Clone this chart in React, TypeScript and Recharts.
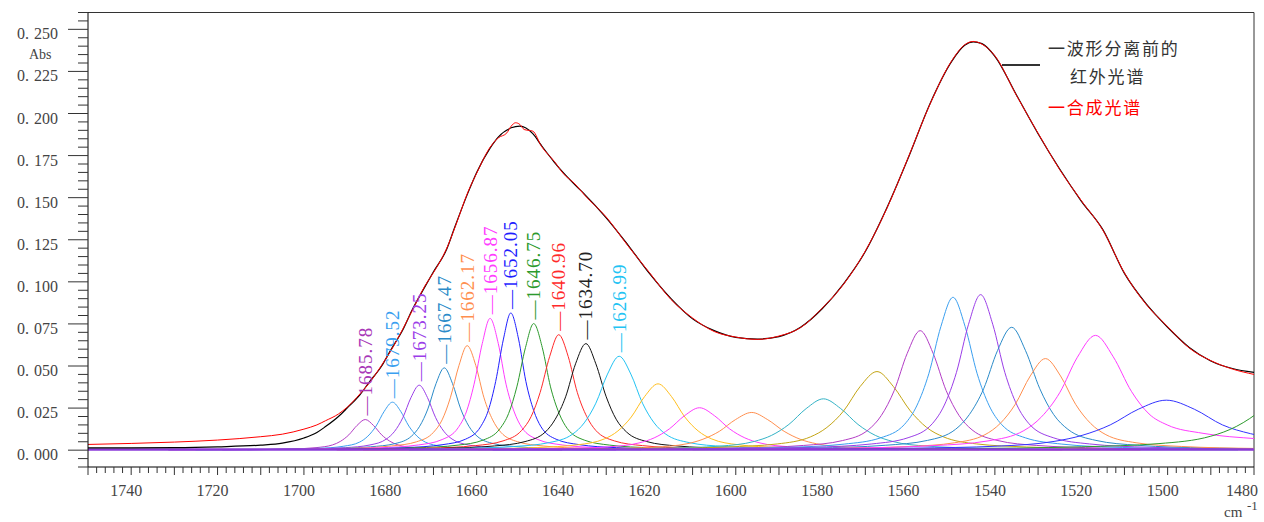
import React from "react";
import { ComposedChart, Line, Scatter, XAxis, YAxis, ReferenceLine } from "recharts";

type Pt = [number, number];

// measured spectrum before curve fitting (black)
const measured: Pt[] = [
  [1750, 0.0014], [1740, 0.0014], [1730, 0.0015], [1720, 0.002], [1710, 0.003], [1705, 0.0042],
  [1700, 0.0072], [1697, 0.0105], [1695, 0.014], [1692, 0.02], [1690, 0.025], [1687, 0.033],
  [1685, 0.04], [1682, 0.05], [1680, 0.059], [1677, 0.072], [1675, 0.083], [1672, 0.097],
  [1670, 0.106], [1667, 0.119], [1665, 0.133], [1662, 0.153], [1660, 0.165], [1657, 0.179],
  [1655, 0.186], [1652, 0.1915], [1650, 0.1925], [1647, 0.188], [1645, 0.181], [1642, 0.171],
  [1640, 0.165], [1637, 0.157], [1635, 0.152], [1630, 0.138], [1625, 0.122], [1620, 0.105],
  [1615, 0.09], [1610, 0.078], [1605, 0.071], [1600, 0.067], [1595, 0.066], [1590, 0.0675],
  [1585, 0.073], [1580, 0.084], [1575, 0.099], [1570, 0.118], [1565, 0.144], [1560, 0.174],
  [1555, 0.206], [1550, 0.231], [1547, 0.2405], [1545, 0.2425], [1543, 0.2415], [1540, 0.234],
  [1535, 0.211], [1530, 0.188], [1525, 0.167], [1520, 0.148], [1515, 0.131], [1510, 0.105],
  [1505, 0.087], [1500, 0.073], [1495, 0.061], [1490, 0.053], [1485, 0.0485], [1480, 0.0462],
];

// synthesized spectrum (red)
const fitted: Pt[] = [
  [1750, 0.0034], [1740, 0.004], [1730, 0.0048], [1720, 0.006], [1710, 0.008], [1705, 0.0095],
  [1700, 0.0125], [1697, 0.015], [1695, 0.0175], [1692, 0.0215], [1690, 0.0255], [1687, 0.0335],
  [1685, 0.0395], [1682, 0.0505], [1680, 0.0585], [1677, 0.0725], [1675, 0.0825], [1672, 0.0975],
  [1670, 0.1055], [1667, 0.1195], [1665, 0.1325], [1662, 0.1535], [1660, 0.1645], [1657, 0.1795],
  [1655, 0.1855], [1653, 0.1885], [1652, 0.1925], [1651, 0.1945], [1650, 0.1935], [1649, 0.1905],
  [1647, 0.1895], [1645, 0.1805], [1642, 0.1715], [1640, 0.1645], [1637, 0.1575], [1635, 0.1515],
  [1630, 0.1385], [1625, 0.1215], [1620, 0.1055], [1615, 0.0895], [1610, 0.0785], [1605, 0.0705],
  [1600, 0.0672], [1595, 0.0658], [1590, 0.0678], [1585, 0.0728], [1580, 0.0843], [1575, 0.0987],
  [1570, 0.1183], [1565, 0.1437], [1560, 0.1743], [1555, 0.2057], [1550, 0.2313], [1547, 0.2408],
  [1545, 0.2428], [1543, 0.2412], [1540, 0.2343], [1535, 0.2107], [1530, 0.1883], [1525, 0.1667],
  [1520, 0.1483], [1515, 0.1307], [1510, 0.1053], [1505, 0.0867], [1500, 0.0733], [1495, 0.0607],
  [1490, 0.0532], [1485, 0.0482], [1480, 0.045],
];

// fitted component bands
const p1685: Pt[] = [[1640.2, .0001], [1659.2, .0003], [1668.7, .0007], [1674.4, .0015], [1678.2, .0031], [1680.1, .0053], [1682.0, .0091], [1683.9, .0147], [1685.8, .0182], [1687.7, .0147], [1689.6, .0091], [1691.5, .0053], [1693.4, .0031], [1697.2, .0015], [1702.9, .0007], [1712.4, .0003], [1731.4, .0001]];
const p1679: Pt[] = [[1633.9, .0002], [1652.9, .0005], [1662.4, .0011], [1668.1, .0023], [1671.9, .0048], [1673.8, .0083], [1675.7, .0143], [1677.6, .0231], [1679.5, .0285], [1681.4, .0231], [1683.3, .0143], [1685.2, .0083], [1687.1, .0048], [1690.9, .0023], [1696.6, .0011], [1706.1, .0005], [1725.1, .0002]];
const p1673: Pt[] = [[1627.7, .0002], [1646.7, .0007], [1656.2, .0015], [1661.9, .0031], [1665.7, .0066], [1667.6, .0112], [1669.5, .0193], [1671.4, .0313], [1673.3, .0386], [1675.2, .0313], [1677.1, .0193], [1679.0, .0112], [1680.9, .0066], [1684.7, .0031], [1690.4, .0015], [1699.9, .0007], [1718.9, .0002]];
const p1667: Pt[] = [[1621.9, .0003], [1640.9, .0009], [1650.4, .002], [1656.1, .0039], [1659.9, .0083], [1661.8, .0142], [1663.7, .0245], [1665.6, .0396], [1667.5, .0489], [1669.4, .0396], [1671.3, .0245], [1673.2, .0142], [1675.1, .0083], [1678.9, .0039], [1684.6, .002], [1694.1, .0009], [1713.1, .0003]];
const p1662: Pt[] = [[1615.4, .0004], [1634.9, .0011], [1644.6, .0025], [1650.5, .005], [1654.4, .0106], [1656.3, .018], [1658.3, .0311], [1660.2, .0503], [1662.2, .0621], [1664.1, .0503], [1666.1, .0311], [1668.0, .018], [1670.0, .0106], [1673.9, .005], [1679.7, .0025], [1689.5, .0011], [1709.0, .0004]];
const p1656: Pt[] = [[1612.5, .0005], [1631.0, .0014], [1640.2, .0031], [1645.8, .0063], [1649.5, .0133], [1651.3, .0227], [1653.2, .0392], [1655.0, .0634], [1656.9, .0783], [1658.7, .0634], [1660.6, .0392], [1662.4, .0227], [1664.3, .0133], [1668.0, .0063], [1673.5, .0031], [1682.8, .0014], [1701.3, .0005]];
const p1652: Pt[] = [[1610.1, .0005], [1627.6, .0015], [1636.3, .0033], [1641.6, .0065], [1645.1, .0139], [1646.8, .0236], [1648.6, .0408], [1650.3, .066], [1652.1, .0815], [1653.8, .066], [1655.6, .0408], [1657.3, .0236], [1659.1, .0139], [1662.6, .0065], [1667.8, .0033], [1676.6, .0015], [1694.1, .0005]];
const p1646: Pt[] = [[1600.0, .0005], [1619.5, .0014], [1629.2, .003], [1635.1, .006], [1639.0, .0128], [1640.9, .0218], [1642.9, .0376], [1644.8, .0609], [1646.8, .0752], [1648.7, .0609], [1650.7, .0376], [1652.6, .0218], [1654.6, .0128], [1658.5, .006], [1664.3, .003], [1674.1, .0014], [1693.6, .0005]];
const p1640: Pt[] = [[1589.4, .0004], [1610.9, .0012], [1621.6, .0027], [1628.1, .0055], [1632.4, .0117], [1634.5, .0199], [1636.7, .0343], [1638.8, .0556], [1641.0, .0686], [1643.1, .0556], [1645.3, .0343], [1647.4, .0199], [1649.6, .0117], [1653.9, .0055], [1660.3, .0027], [1671.1, .0012], [1692.6, .0004]];
const p1634: Pt[] = [[1578.3, .0004], [1601.8, .0011], [1613.6, .0025], [1620.6, .0051], [1625.3, .0108], [1627.7, .0184], [1630.0, .0317], [1632.4, .0513], [1634.7, .0633], [1637.1, .0513], [1639.4, .0317], [1641.8, .0184], [1644.1, .0108], [1648.8, .0051], [1655.9, .0025], [1667.6, .0011], [1691.1, .0004]];
const p1626: Pt[] = [[1562.2, .0003], [1589.2, .001], [1602.7, .0022], [1610.8, .0045], [1616.2, .0095], [1618.9, .0162], [1621.6, .0279], [1624.3, .0452], [1627.0, .0558], [1629.7, .0452], [1632.4, .0279], [1635.1, .0162], [1637.8, .0095], [1643.2, .0045], [1651.3, .0022], [1664.8, .001], [1691.8, .0003]];
const p1618: Pt[] = [[1543.6, .0002], [1574.6, .0007], [1590.1, .0016], [1599.4, .0032], [1605.6, .0067], [1608.7, .0114], [1611.8, .0197], [1614.9, .0319], [1618.0, .0394], [1621.1, .0319], [1624.2, .0197], [1627.3, .0114], [1630.4, .0067], [1636.6, .0032], [1645.9, .0016], [1661.4, .0007], [1692.4, .0002]];
const p1608: Pt[] = [[1524.4, .0002], [1559.4, .0005], [1576.9, .001], [1587.4, .002], [1594.4, .0043], [1597.9, .0073], [1601.4, .0126], [1604.9, .0204], [1608.4, .0252], [1611.9, .0204], [1615.4, .0126], [1618.9, .0073], [1622.4, .0043], [1629.4, .002], [1639.9, .001], [1657.4, .0005], [1692.4, .0002]];
const p1596: Pt[] = [[1506.3, .0001], [1543.8, .0004], [1562.6, .0009], [1573.8, .0018], [1581.3, .0038], [1585.1, .0065], [1588.8, .0112], [1592.6, .0181], [1596.3, .0224], [1600.1, .0181], [1603.8, .0112], [1607.6, .0065], [1611.3, .0038], [1618.8, .0018], [1630.1, .0009], [1648.8, .0004], [1686.3, .0001]];
const p1580: Pt[] = [[1483.7, .0002], [1523.7, .0005], [1543.7, .0012], [1555.7, .0024], [1563.7, .0052], [1567.7, .0088], [1571.7, .0153], [1575.7, .0247], [1579.7, .0305], [1583.7, .0247], [1587.7, .0153], [1591.7, .0088], [1595.7, .0052], [1603.7, .0024], [1615.7, .0012], [1635.7, .0005], [1675.7, .0002]];
const p1567: Pt[] = [[1474.9, .0003], [1513.4, .0008], [1532.7, .0019], [1544.2, .0037], [1551.9, .0079], [1555.8, .0135], [1559.6, .0234], [1563.5, .0378], [1567.3, .0467], [1571.2, .0378], [1575.0, .0234], [1578.9, .0135], [1582.7, .0079], [1590.4, .0037], [1602.0, .0019], [1621.2, .0008], [1659.7, .0003]];
const p1557: Pt[] = [[1485.3, .0004], [1515.3, .0013], [1530.3, .0028], [1539.3, .0057], [1545.3, .0121], [1548.3, .0206], [1551.3, .0355], [1554.3, .0575], [1557.3, .071], [1560.3, .0575], [1563.3, .0355], [1566.3, .0206], [1569.3, .0121], [1575.3, .0057], [1584.3, .0028], [1599.3, .0013], [1629.3, .0004]];
const p1550: Pt[] = [[1482.5, .0005], [1510.5, .0016], [1524.5, .0036], [1532.9, .0073], [1538.5, .0154], [1541.3, .0263], [1544.1, .0454], [1546.9, .0735], [1549.7, .0908], [1552.5, .0735], [1555.3, .0454], [1558.1, .0263], [1560.9, .0154], [1566.5, .0073], [1574.9, .0036], [1588.9, .0016], [1616.9, .0005]];
const p1543: Pt[] = [[1476.1, .0006], [1504.1, .0017], [1518.1, .0037], [1526.5, .0074], [1532.1, .0157], [1534.9, .0268], [1537.7, .0462], [1540.5, .0748], [1543.3, .0924], [1546.1, .0748], [1548.9, .0462], [1551.7, .0268], [1554.5, .0157], [1560.1, .0074], [1568.5, .0037], [1582.5, .0017], [1610.5, .0006]];
const p1536: Pt[] = [[1458.1, .0004], [1490.6, .0013], [1506.9, .0029], [1516.6, .0058], [1523.1, .0124], [1526.4, .0212], [1529.6, .0365], [1532.9, .0591], [1536.1, .073], [1539.4, .0591], [1542.6, .0365], [1545.9, .0212], [1549.1, .0124], [1555.6, .0058], [1565.4, .0029], [1581.6, .0013], [1614.1, .0004]];
const p1528: Pt[] = [[1444.3, .0003], [1479.3, .001], [1496.8, .0022], [1507.3, .0044], [1514.3, .0092], [1517.8, .0158], [1521.3, .0272], [1524.8, .0441], [1528.3, .0544], [1531.8, .0441], [1535.3, .0272], [1538.8, .0158], [1542.3, .0092], [1549.3, .0044], [1559.8, .0022], [1577.3, .001], [1612.3, .0003]];
const p1517: Pt[] = [[1417.1, .002], [1458.6, .0045], [1479.4, .0068], [1491.8, .01], [1500.1, .015], [1504.3, .0215], [1508.4, .035], [1512.6, .0555], [1516.7, .0682], [1520.9, .0552], [1525.0, .0341], [1529.2, .0198], [1533.3, .0116], [1541.6, .0055], [1554.1, .0027], [1574.8, .0012], [1616.3, .0004]];
const p1500: Pt[] = [[1461.3, .004], [1474.3, .0068], [1480.8, .0098], [1487.3, .015], [1493.8, .0243], [1500.3, .0297], [1506.8, .0243], [1513.3, .015], [1519.8, .0088], [1526.3, .0052], [1539.3, .0024], [1558.8, .0012], [1591.3, .0005], [1656.3, .0002]];
const p1466: Pt[] = [[1466, .049], [1472, .0397], [1478, .0245], [1484, .0142], [1490, .0083], [1502, .0039], [1520, .002], [1550, .0009], [1610, .0003]];

const baseline: Pt[] = [[1480, 0.0004], [1750, 0.0004]];

const components: { pts: Pt[]; color: string }[] = [
  { pts: p1685, color: "#b33dc6" },
  { pts: p1679, color: "#3a9ff0" },
  { pts: p1673, color: "#9b3ee8" },
  { pts: p1667, color: "#2b8bc9" },
  { pts: p1662, color: "#ff8f4f" },
  { pts: p1656, color: "#ff3cff" },
  { pts: p1652, color: "#1f1fff" },
  { pts: p1646, color: "#2c9a2c" },
  { pts: p1640, color: "#ff2a2a" },
  { pts: p1634, color: "#111111" },
  { pts: p1626, color: "#23c3f3" },
  { pts: p1618, color: "#ffbf1f" },
  { pts: p1608, color: "#ff3cff" },
  { pts: p1596, color: "#ff8f4f" },
  { pts: p1580, color: "#33b3c6" },
  { pts: p1567, color: "#c4a515" },
  { pts: p1557, color: "#b33dc6" },
  { pts: p1550, color: "#3a9ff0" },
  { pts: p1543, color: "#9b3ee8" },
  { pts: p1536, color: "#2b8bc9" },
  { pts: p1528, color: "#ff8f4f" },
  { pts: p1517, color: "#ff3cff" },
  { pts: p1500, color: "#3333ff" },
  { pts: p1466, color: "#2c9a2c" },
];

const peakLabels = [
  { x: 1685.78, y: 0.0182, text: "1685.78", color: "#a838b8" },
  { x: 1679.52, y: 0.0285, text: "1679.52", color: "#3a9ff0" },
  { x: 1673.25, y: 0.0386, text: "1673.25", color: "#9b3ee8" },
  { x: 1667.47, y: 0.0489, text: "1667.47", color: "#2b8bc9" },
  { x: 1662.17, y: 0.0621, text: "1662.17", color: "#ff8f4f" },
  { x: 1656.87, y: 0.0783, text: "1656.87", color: "#ff3cff" },
  { x: 1652.05, y: 0.0815, text: "1652.05", color: "#1f1fff" },
  { x: 1646.75, y: 0.0752, text: "1646.75", color: "#2c9a2c" },
  { x: 1640.96, y: 0.0686, text: "1640.96", color: "#ff2a2a" },
  { x: 1634.7, y: 0.0633, text: "1634.70", color: "#222222" },
  { x: 1626.99, y: 0.0558, text: "1626.99", color: "#23c3f3" },
];

const xLabels = [1740, 1720, 1700, 1680, 1660, 1640, 1620, 1600, 1580, 1560, 1540, 1520, 1500, 1480];
const yLabels = [0, 0.025, 0.05, 0.075, 0.1, 0.125, 0.15, 0.175, 0.2, 0.225, 0.25];

const xTicks = Array.from({ length: 136 }, (_, i) => 1480 + i * 2);
const yTicks = Array.from({ length: 55 }, (_, i) => Math.round((-0.01 + i * 0.005) * 1000) / 1000);

const SERIF = '"Liberation Serif", "DejaVu Serif", serif';
const CJK = '"Noto Sans CJK SC", "Noto Sans", sans-serif';

const rows = (pts: Pt[]) => pts.map(([x, y]) => ({ x, y }));

const XTick = ({ x, y, payload }: any) => {
  const v = payload.value;
  const major = v % 10 === 0;
  return (
    <g>
      <line x1={x} x2={x} y1={y} y2={y + (major ? 8 : 6)} stroke="#333" />
      {xLabels.includes(v) && (
        <text x={x - (v === 1480 ? 12 : 5)} y={y + 29} textAnchor="middle" fontSize={16} fill="#444" fontFamily={SERIF}>
          {v}
        </text>
      )}
    </g>
  );
};

const YTick = ({ x, y, payload }: any) => {
  const v = payload.value;
  const major = yLabels.some((l) => Math.abs(l - v) < 1e-9);
  return (
    <g>
      <line x1={x - (major ? 20 : 10)} x2={x} y1={y} y2={y} stroke="#333" />
      {major && (
        <text x={x - 30} y={y + 4} textAnchor="end" dominantBaseline="central" fontSize={16} fill="#444" fontFamily={SERIF}>
          <tspan>0.</tspan>
          <tspan dx={5}>{v.toFixed(3).slice(2)}</tspan>
        </text>
      )}
    </g>
  );
};

const PeakLabel = (props: any) => {
  const { cx, cy, payload } = props;
  const ty = cy - 4;
  return (
    <text
      x={cx}
      y={ty}
      transform={`rotate(-90 ${cx} ${ty})`}
      textAnchor="start"
      dominantBaseline="central"
      fill={payload.color}
      fontSize={19}
      letterSpacing={1}
      fontFamily={SERIF}
    >
      {"—" + payload.text}
    </text>
  );
};

const abs = (s: React.CSSProperties): React.CSSProperties => ({ position: "absolute", lineHeight: 1, whiteSpace: "nowrap", ...s });

export default function App() {
  return (
    <div style={{ position: "absolute", left: 0, top: 0, width: 1264, height: 522, background: "#fff" }}>
      <ComposedChart width={1264} height={522} margin={{ top: 12.5, right: 10, bottom: 5, left: 0 }}>
        <XAxis
          type="number"
          dataKey="x"
          domain={[1480, 1750]}
          reversed
          allowDataOverflow
          ticks={xTicks}
          interval={0}
          tickSize={0}
          tickMargin={0}
          tick={<XTick />}
          height={50}
          axisLine={{ stroke: "#000" }}
        />
        <YAxis
          type="number"
          domain={[-0.01, 0.26]}
          allowDataOverflow
          ticks={yTicks}
          interval={0}
          tickSize={0}
          tickMargin={0}
          tick={<YTick />}
          width={88}
          axisLine={{ stroke: "#000" }}
        />
        <ReferenceLine y={0.26} stroke="#333" />
        <ReferenceLine x={1480} stroke="#333" />
        {components.map((c, i) => (
          <Line
            key={i}
            data={rows(c.pts)}
            dataKey="y"
            type="monotone"
            stroke={c.color}
            strokeWidth={1}
            dot={false}
            activeDot={false}
            isAnimationActive={false}
          />
        ))}
        <Line data={rows(baseline)} dataKey="y" type="linear" stroke="#8a3ad8" strokeWidth={2.5} dot={false} activeDot={false} isAnimationActive={false} />
        <Line data={rows(measured)} dataKey="y" type="monotone" stroke="#000" strokeWidth={1.2} dot={false} activeDot={false} isAnimationActive={false} />
        <Line data={rows(fitted)} dataKey="y" type="monotone" stroke="#ff0000" strokeWidth={1} dot={false} activeDot={false} isAnimationActive={false} />
        <Scatter data={peakLabels} dataKey="y" shape={<PeakLabel />} isAnimationActive={false} />
      </ComposedChart>

      <div style={abs({ left: 29, top: 48, fontSize: 14, fontFamily: SERIF, color: "#444" })}>Abs</div>
      <div style={abs({ left: 1224, top: 505, fontSize: 15, fontFamily: SERIF, color: "#444" })}>cm</div>
      <div style={abs({ left: 1247, top: 499, fontSize: 13, fontFamily: SERIF, color: "#444" })}>-1</div>

      <div style={abs({ left: 1002, top: 64, width: 38, height: 2, background: "#333" })} />
      <div style={abs({ left: 1048, top: 38, fontSize: 17, lineHeight: "20px", letterSpacing: 1.8, fontFamily: CJK, color: "#333" })}>一波形分离前的</div>
      <div style={abs({ left: 1070, top: 66, fontSize: 17, lineHeight: "20px", letterSpacing: 1.8, fontFamily: CJK, color: "#333" })}>红外光谱</div>
      <div style={abs({ left: 1048, top: 97, fontSize: 17, lineHeight: "20px", letterSpacing: 1.8, fontFamily: CJK, color: "#ff0000" })}>一合成光谱</div>
    </div>
  );
}
